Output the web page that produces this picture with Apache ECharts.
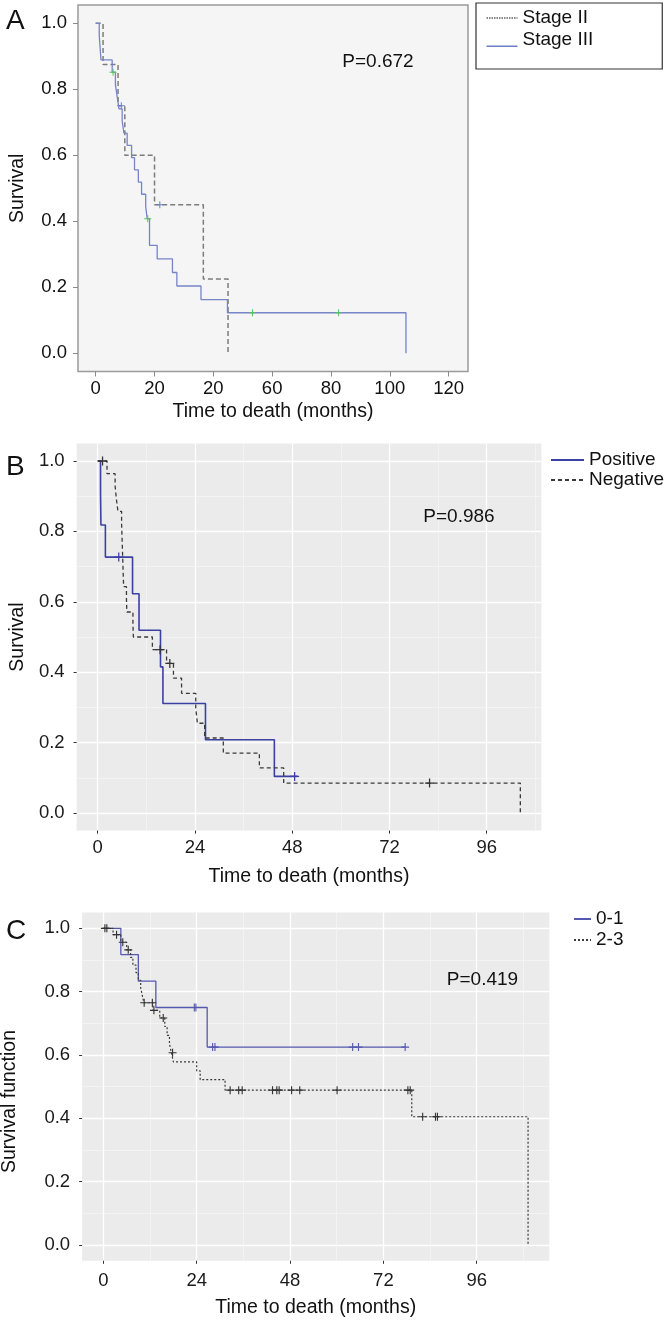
<!DOCTYPE html>
<html><head><meta charset="utf-8">
<script src="https://cdn.jsdelivr.net/npm/echarts@6/dist/echarts.min.js"></script>
<style>html,body{margin:0;padding:0;background:#fff}#c{width:666px;height:1321px}</style>
</head><body><div id="c"></div>
<script>
// ---------- Panel A (Stage) ----------
const aXTicks = [0, 20, 40, 60, 80, 100, 120];
const aXTickLabels = ['0', '20', '20', '60', '80', '100', '120'];
const yTicks = [0, 0.2, 0.4, 0.6, 0.8, 1.0];
const stage2Time = [0, 2.5, 7.6, 9.9, 20.0, 36.6, 45.0];
const stage2Surv = [1, 0.875, 0.75, 0.6, 0.45, 0.225, 0];
const stage2CensorTime = [8.7, 21.8];
const stage2CensorSurv = [0.75, 0.45];
const stage3Time = [0, 1.2, 1.5, 1.8, 5.6, 6.7, 7.3, 7.9, 9.0, 9.6, 10.7, 12.2, 13.2, 14.5, 15.6, 17.0, 17.5, 18.3, 20.9, 26.1, 27.6, 35.8, 44.8, 105.5];
const stage3Surv = [1, 0.963, 0.926, 0.889, 0.852, 0.815, 0.778, 0.741, 0.704, 0.667, 0.630, 0.593, 0.556, 0.519, 0.482, 0.445, 0.408, 0.327, 0.286, 0.245, 0.204, 0.163, 0.123, 0];
const stage3CensorTime = [5.9, 17.7, 53.3, 82.6];
const stage3CensorSurv = [0.852, 0.408, 0.123, 0.123];

// ---------- Panel B (Positive / Negative) ----------
const bXMajor = [0, 24, 48, 72, 96];
const bXMinor = [12, 36, 60, 84, 108];
const yMinor = [0.1, 0.3, 0.5, 0.7, 0.9];
const posTime = [0, 0.7, 0.8, 1.9, 8.6, 10.2, 15.5, 16.1, 26.6, 43.6, 49.3];
const posSurv = [1, 0.909, 0.818, 0.727, 0.623, 0.519, 0.415, 0.311, 0.208, 0.104, 0.104];
const posCensorTime = [5.2, 48.6];
const posCensorSurv = [0.727, 0.104];
const negTime = [0, 2.3, 4.3, 4.6, 5.0, 5.9, 6.0, 6.1, 6.2, 6.3, 6.4, 7.1, 7.2, 8.7, 8.8, 13.5, 17.0, 18.7, 20.7, 24.2, 24.6, 26.4, 31.0, 39.9, 45.9, 104.3];
const negSurv = [1, 0.964, 0.929, 0.893, 0.857, 0.821, 0.786, 0.75, 0.714, 0.679, 0.643, 0.607, 0.571, 0.536, 0.5, 0.464, 0.425, 0.383, 0.340, 0.298, 0.255, 0.213, 0.170, 0.128, 0.085, 0];
const negCensorTime = [1.2, 15.4, 17.8, 81.9];
const negCensorSurv = [1, 0.464, 0.425, 0.085];

// ---------- Panel C (0-1 / 2-3) ----------
const cXMajor = [0, 24, 48, 72, 96];
const cXMinor = [12, 36, 60, 84, 108];
const g01Time = [0, 4.5, 9.0, 13.5, 26.7, 77.6];
const g01Surv = [1, 0.917, 0.833, 0.75, 0.625, 0.625];
const g01CensorTime = [23.4, 23.8, 28.1, 28.7, 64.1, 65.6, 77.6];
const g01CensorSurv = [0.75, 0.75, 0.625, 0.625, 0.625, 0.625, 0.625];
const g23Time = [0, 2.5, 4.5, 6.0, 7.0, 7.6, 8.4, 9.0, 9.6, 10.0, 10.4, 12.75, 14.5, 15.8, 16.4, 17.0, 17.5, 18.0, 24.0, 24.9, 31.3, 79.3, 109.2];
const g23Surv = [1, 0.98, 0.956, 0.932, 0.908, 0.884, 0.86, 0.836, 0.812, 0.789, 0.765, 0.741, 0.717, 0.69, 0.662, 0.635, 0.607, 0.578, 0.55, 0.522, 0.489, 0.405, 0];
const g23CensorTime = [0.4, 0.9, 3.4, 5.0, 6.4, 10.5, 12.6, 13.0, 15.4, 17.8, 32.6, 34.8, 35.7, 43.5, 44.6, 45.2, 48.4, 50.5, 60.1, 78.3, 78.9, 82.1, 85.4, 85.9];
const g23CensorSurv = [1, 1, 0.98, 0.956, 0.932, 0.765, 0.765, 0.741, 0.717, 0.607, 0.489, 0.489, 0.489, 0.489, 0.489, 0.489, 0.489, 0.489, 0.489, 0.489, 0.489, 0.405, 0.405, 0.405];

const zip = (t, s) => t.map((v, i) => [v, s[i]]);
const FONT = '"Liberation Sans", Arial, Helvetica, sans-serif';
const PLUS = 'path://M8.6,0H11.4V20H8.6ZM0,8.6H20V11.4H0Z';
const UNDERLINE = 'path://M0,0H0.01V0.01H0ZM0,12.6H31V14H0Z';
const fmt1 = v => v.toFixed(1);

function ggMajorX(grid, min, max, ticks, nameGap, labelMargin) {
  return {
    gridIndex: grid, type: 'value', min: min, max: max, position: 'bottom',
    axisLine: { show: false, onZero: false },
    axisTick: { show: true, length: 3, customValues: ticks, lineStyle: { color: '#333', width: 1 } },
    axisLabel: { customValues: ticks, margin: labelMargin, fontSize: 18.5, fontFamily: FONT, color: '#1a1a1a' },
    splitLine: { show: true, lineStyle: { color: '#ffffff', width: 1.3 } },
    name: 'Time to death (months)', nameLocation: 'middle', nameGap: nameGap,
    nameTextStyle: { fontSize: 19.5, fontFamily: FONT, color: '#111' }
  };
}
function ggMinorX(grid, min, max, ticks) {
  return {
    gridIndex: grid, type: 'value', min: min, max: max, position: 'top',
    axisLine: { show: false, onZero: false }, axisLabel: { show: false },
    axisTick: { show: false, customValues: ticks },
    splitLine: { show: true, lineStyle: { color: '#f7f7f7', width: 0.7 } }
  };
}
function ggMajorY(grid, name, nameGap) {
  return {
    gridIndex: grid, type: 'value', min: -0.05, max: 1.05, position: 'left',
    axisLine: { show: false, onZero: false },
    axisTick: { show: true, length: 3, customValues: yTicks, lineStyle: { color: '#333', width: 1 } },
    axisLabel: { customValues: yTicks, formatter: fmt1, margin: 12, fontSize: 18.5, fontFamily: FONT, color: '#1a1a1a' },
    splitLine: { show: true, lineStyle: { color: '#ffffff', width: 1.3 } },
    name: name, nameLocation: 'middle', nameGap: nameGap, nameRotate: 90,
    nameTextStyle: { fontSize: 19.5, fontFamily: FONT, color: '#111' }
  };
}
function ggMinorY(grid) {
  return {
    gridIndex: grid, type: 'value', min: -0.05, max: 1.05, position: 'right',
    axisLine: { show: false, onZero: false }, axisLabel: { show: false },
    axisTick: { show: false, customValues: yMinor },
    splitLine: { show: true, lineStyle: { color: '#f7f7f7', width: 0.7 } }
  };
}

function stepSeries(name, xi, yi, t, s, color, width, type) {
  return {
    name: name, type: 'line', step: 'end', xAxisIndex: xi, yAxisIndex: yi,
    data: zip(t, s), symbol: 'none', showSymbol: false, silent: true, z: 3,
    lineStyle: { color: color, width: width, type: type }, itemStyle: { color: color }
  };
}
function censorSeries(xi, yi, t, s, color, size) {
  return {
    type: 'scatter', xAxisIndex: xi, yAxisIndex: yi, data: zip(t, s),
    symbol: PLUS, symbolSize: size, silent: true, z: 4,
    itemStyle: { color: color, opacity: 1 }
  };
}
const legendText = { fontSize: 19, fontFamily: FONT, color: '#111', lineHeight: 19 };
const noSymbol = { opacity: 0, color: 'transparent', borderWidth: 0 };

const chart = echarts.init(document.getElementById('c'), null, { renderer: 'canvas' });
chart.setOption({
  animation: false,
  backgroundColor: '#ffffff',
  grid: [
    { left: 78, top: 5, width: 390, height: 366.5, show: true, backgroundColor: '#f5f5f5', borderColor: '#9b9b9b', borderWidth: 1.5 },
    { left: 74.5, top: 443.4, width: 466.9, height: 387.2, show: true, backgroundColor: '#ebebeb', borderWidth: 0 },
    { left: 82.1, top: 912.5, width: 467.2, height: 348.3, show: true, backgroundColor: '#ebebeb', borderWidth: 0 }
  ],
  xAxis: [
    {
      gridIndex: 0, type: 'value', min: -6.02, max: 126.6, position: 'bottom',
      axisLine: { show: false, onZero: false },
      axisTick: { show: true, length: 5, customValues: aXTicks, lineStyle: { color: '#8a8a8a', width: 1 } },
      axisLabel: { customValues: aXTicks, formatter: v => aXTickLabels[aXTicks.indexOf(v)], margin: 8, fontSize: 18.5, fontFamily: FONT, color: '#111' },
      splitLine: { show: false },
      name: 'Time to death (months)', nameLocation: 'middle', nameGap: 30,
      nameTextStyle: { fontSize: 19.5, fontFamily: FONT, color: '#111' }
    },
    ggMajorX(1, -5.2, 109.5, bXMajor, 36, 8),
    ggMinorX(1, -5.2, 109.5, bXMinor),
    ggMajorX(2, -5.46, 114.66, cXMajor, 36.5, 11),
    ggMinorX(2, -5.46, 114.66, cXMinor)
  ],
  yAxis: [
    {
      gridIndex: 0, type: 'value', min: -0.055, max: 1.0555, position: 'left',
      axisLine: { show: false, onZero: false },
      axisTick: { show: true, length: 5, customValues: yTicks, lineStyle: { color: '#8a8a8a', width: 1 } },
      axisLabel: { customValues: yTicks, formatter: fmt1, margin: 11, fontSize: 18.5, fontFamily: FONT, color: '#111' },
      splitLine: { show: false },
      name: 'Survival', nameLocation: 'middle', nameGap: 50, nameRotate: 90,
      nameTextStyle: { fontSize: 19.5, fontFamily: FONT, color: '#111' }
    },
    ggMajorY(1, 'Survival', 48),
    ggMinorY(1),
    ggMajorY(2, '', 60),
    ggMinorY(2)
  ],
  legend: [
    {
      data: [
        { name: 'Stage II', lineStyle: { color: '#111', width: 1, type: [1.5, 1] } },
        { name: 'Stage III', icon: UNDERLINE, itemStyle: { opacity: 1, color: '#6f7ec4' } }
      ],
      orient: 'vertical', left: 476, top: 3, padding: [5.5, 69, 19.5, 10], itemGap: 3,
      itemWidth: 31, itemHeight: 14, selectedMode: false, itemStyle: noSymbol,
      borderColor: '#333', borderWidth: 1.2, backgroundColor: '#fff',
      textStyle: legendText
    },
    {
      data: ['Positive', 'Negative'],
      orient: 'vertical', left: 550, top: 450.5, padding: 0, itemGap: 1,
      itemWidth: 33, itemHeight: 14, selectedMode: false, itemStyle: noSymbol,
      textStyle: legendText
    },
    {
      data: ['0-1', '2-3'],
      orient: 'vertical', left: 573, top: 909.5, padding: 0, itemGap: 2,
      itemWidth: 17, itemHeight: 14, selectedMode: false, itemStyle: noSymbol,
      textStyle: legendText
    }
  ],
  graphic: [
    { type: 'text', z: 100, left: 6, top: 7, style: { text: 'A', fontSize: 28, fontFamily: FONT, fill: '#111' } },
    { type: 'text', z: 100, left: 6, top: 453, style: { text: 'B', fontSize: 28, fontFamily: FONT, fill: '#111' } },
    { type: 'text', z: 100, left: 6, top: 917, style: { text: 'C', fontSize: 28, fontFamily: FONT, fill: '#111' } },
    { type: 'text', z: 100, x: 378, y: 62, style: { text: 'P=0.672', fontSize: 19, fontFamily: FONT, fill: '#111', align: 'center', verticalAlign: 'middle' } },
    { type: 'text', z: 100, x: 459, y: 517, style: { text: 'P=0.986', fontSize: 19, fontFamily: FONT, fill: '#111', align: 'center', verticalAlign: 'middle' } },
    { type: 'text', z: 100, x: 482.5, y: 980, style: { text: 'P=0.419', fontSize: 19, fontFamily: FONT, fill: '#111', align: 'center', verticalAlign: 'middle' } },
    { type: 'text', z: 100, x: 10, y: 1101.5, rotation: Math.PI / 2, style: { text: 'Survival function', fontSize: 19.5, fontFamily: FONT, fill: '#111', align: 'center', verticalAlign: 'middle' } }
  ],
  series: [
    stepSeries('Stage II', 0, 0, stage2Time, stage2Surv, '#7c7c7c', 1.5, [5, 3]),
    stepSeries('Stage III', 0, 0, stage3Time, stage3Surv, '#7684c8', 1.3, 'solid'),
    censorSeries(0, 0, stage2CensorTime, stage2CensorSurv, '#6d7cc4', 7),
    censorSeries(0, 0, stage3CensorTime, stage3CensorSurv, '#55c35a', 7),

    stepSeries('Positive', 1, 1, posTime, posSurv, '#3c40a2', 1.6, 'solid'),
    stepSeries('Negative', 1, 1, negTime, negSurv, '#3a3a3a', 1.3, [4, 3]),
    censorSeries(1, 1, posCensorTime, posCensorSurv, '#3c40a2', 9),
    censorSeries(1, 1, negCensorTime, negCensorSurv, '#333333', 9),

    stepSeries('0-1', 3, 3, g01Time, g01Surv, '#5458b0', 1.3, 'solid'),
    stepSeries('2-3', 3, 3, g23Time, g23Surv, '#3a3a3a', 1.2, [2, 2]),
    censorSeries(3, 3, g01CensorTime, g01CensorSurv, '#5458b0', 8),
    censorSeries(3, 3, g23CensorTime, g23CensorSurv, '#333333', 8)
  ]
});
</script>
</body></html>
